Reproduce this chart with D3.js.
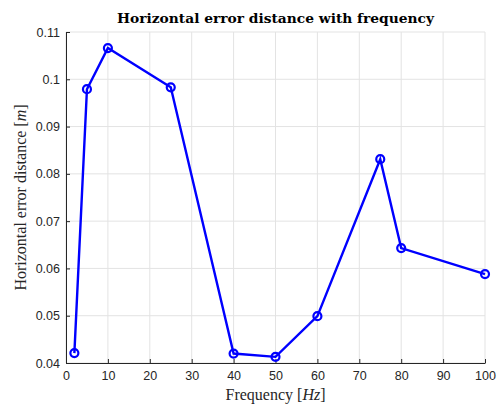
<!DOCTYPE html>
<html><head><meta charset="utf-8">
<script src="https://cdn.jsdelivr.net/npm/d3@7"></script>
<style>body{margin:0;background:#fff}svg{display:block}</style>
</head><body><svg id="c" width="498" height="406"></svg>
<script>
const freq = [2, 5, 10, 25, 40, 50, 60, 75, 80, 100];
const errDist = [0.0421, 0.0979, 0.1066, 0.0983, 0.0420, 0.0413, 0.0499, 0.0831, 0.0643, 0.0588];
const xTicks = [0,10,20,30,40,50,60,70,80,90,100];
const yTicks = [0.04,0.05,0.06,0.07,0.08,0.09,0.10,0.11];
const yTickLabels = ["0.04","0.05","0.06","0.07","0.08","0.09","0.1","0.11"];

const svg = d3.select("#c");
const L=66, R=485, T=32, B=363;
const x = d3.scaleLinear().domain([0,100]).range([L,R]);
const y = d3.scaleLinear().domain([0.04,0.11]).range([B,T]);

// grid
svg.append("g").selectAll("line").data(xTicks).join("line")
  .attr("x1",d=>x(d)).attr("x2",d=>x(d)).attr("y1",T).attr("y2",B)
  .attr("stroke","#e3e3e3").attr("stroke-width",1);
svg.append("g").selectAll("line").data(yTicks).join("line")
  .attr("x1",L).attr("x2",R).attr("y1",d=>y(d)).attr("y2",d=>y(d))
  .attr("stroke","#e3e3e3").attr("stroke-width",1);

// axes
const xAxis = d3.axisBottom(x).tickValues(xTicks).tickSizeInner(-4).tickSizeOuter(0).tickPadding(8);
const yAxis = d3.axisLeft(y).tickValues(yTicks).tickFormat((d,i)=>yTickLabels[i]).tickSizeInner(-4).tickSizeOuter(0).tickPadding(6);
const gx = svg.append("g").attr("transform",`translate(0,${B})`).call(xAxis);
const gy = svg.append("g").attr("transform",`translate(${L},0)`).call(yAxis);
[gx,gy].forEach(g=>{
  g.select(".domain").attr("stroke","#262626").attr("stroke-width",1);
  g.selectAll(".tick line").attr("stroke","#262626");
  g.selectAll(".tick text").attr("fill","#262626").style("font-family","Liberation Sans, Arial, sans-serif").style("font-size","12.5px");
});

// line
svg.append("path").datum(freq.map((f,i)=>[f,errDist[i]]))
  .attr("d", d3.line().x(d=>x(d[0])).y(d=>y(d[1])))
  .attr("fill","none").attr("stroke","#0000ff").attr("stroke-width",2.4);
svg.append("g").selectAll("circle").data(freq.map((f,i)=>[f,errDist[i]])).join("circle")
  .attr("cx",d=>x(d[0])).attr("cy",d=>y(d[1])).attr("r",4)
  .attr("fill","none").attr("stroke","#0000ff").attr("stroke-width",2.2);

// title & labels
svg.append("text").attr("x",(L+R)/2).attr("y",23).attr("text-anchor","middle")
  .style("font-family","DejaVu Serif, serif").style("font-weight","bold").style("font-size","13.8px")
  .attr("fill","#000").text("Horizontal error distance with frequency");
const xl = svg.append("text").attr("x",(L+R)/2).attr("y",400).attr("text-anchor","middle")
  .style("font-family","Liberation Serif, serif").style("font-size","16px").attr("fill","#262626");
xl.append("tspan").text("Frequency [");
xl.append("tspan").style("font-style","italic").text("Hz");
xl.append("tspan").text("]");
const yl = svg.append("text").attr("transform",`translate(26,${(T+B)/2}) rotate(-90)`).attr("text-anchor","middle")
  .style("font-family","Liberation Serif, serif").style("font-size","16px").attr("fill","#262626");
yl.append("tspan").text("Horizontal error distance [");
yl.append("tspan").style("font-style","italic").text("m");
yl.append("tspan").text("]");
</script></body></html>
